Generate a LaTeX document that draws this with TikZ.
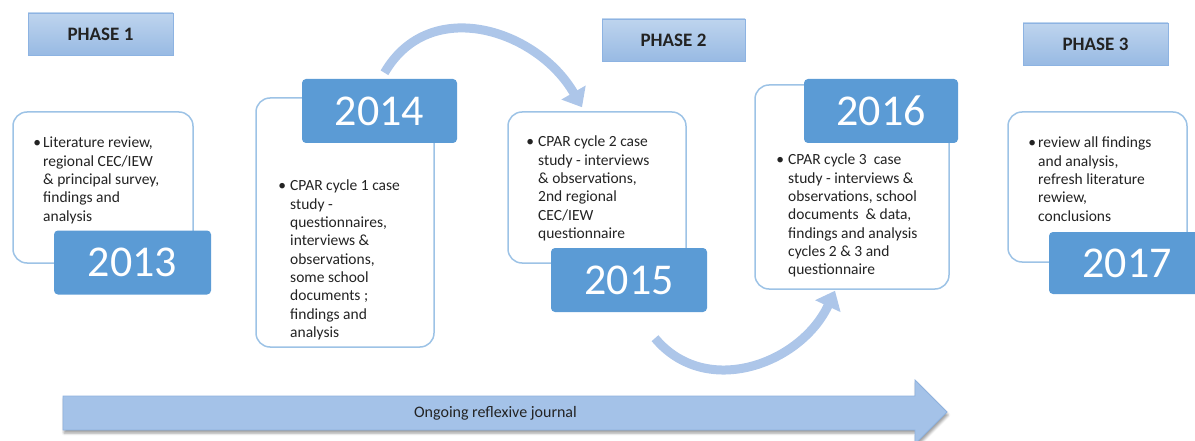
\documentclass[tikz,border=0pt]{standalone}
\usepackage{fontspec}
\setmainfont{Carlito}
\usetikzlibrary{arrows.meta, positioning, calc, shadows.blur}
\definecolor{yearfill}{RGB}{91,155,213}
\definecolor{cardline}{RGB}{157,195,230}
\definecolor{phasetop}{RGB}{190,212,238}
\definecolor{phasebot}{RGB}{152,186,227}
\definecolor{phaseline}{RGB}{141,179,226}
\definecolor{curvefill}{RGB}{173,198,233}
\definecolor{journalfill}{RGB}{164,194,232}
\definecolor{journalline}{RGB}{142,177,222}
\definecolor{bodyink}{RGB}{35,35,35}
\newcommand\cardbullet{\llap{\textbullet\hspace{4pt}}}
\newcommand\tightbullet{\llap{\textbullet\hspace{2pt}}}

\begin{document}
\begin{tikzpicture}[
  x=1pt, y=1pt,
  phasebox/.style={top color=phasetop, bottom color=phasebot, draw=phaseline,
                   line width=0.8pt, minimum width=145pt, minimum height=42pt,
                   inner sep=0pt, text=bodyink,
                   font=\fontsize{19}{22}\selectfont\bfseries},
  cardbox/.style={draw=cardline, line width=1.5pt, fill=white,
                  rounded corners=14pt, inner sep=0pt},
  yearbox/.style={fill=yearfill, rounded corners=4pt, minimum width=156pt,
                  minimum height=64pt, inner sep=0pt, text=white,
                  font=\fontsize{44}{48}\selectfont},
  cardtext/.style={anchor=north west, align=left, inner sep=0pt, text=bodyink,
                   font=\fontsize{15.5}{18.3}\selectfont},
  curvearrow/.style={draw=curvefill, line width=9pt,
                     -{Triangle[length=17pt, width=27pt]}},
  journalarrow/.style={fill=journalfill, draw=journalline, line width=0.8pt,
                       blur shadow={shadow xshift=1pt, shadow yshift=-3pt,
                                    shadow blur radius=2.5pt}},
]
\useasboundingbox (0,0) rectangle (1195,-441);

% =================================================================
%  PHASE LABELS
% =================================================================
\node[phasebox] (phase1) at (100.5,-34) {PHASE 1};
\node[phasebox, minimum width=143pt] (phase2) at (673.5,-40) {PHASE 2};
\node[phasebox] (phase3) at (1095.5,-44) {PHASE 3};

% =================================================================
%  CARDS
% =================================================================
\node[cardbox, minimum width=180pt, minimum height=151pt] (card13) at (103,-187.5) {};
\node[cardbox, minimum width=178pt, minimum height=249pt] (card14) at (345,-222.5) {};
\node[cardbox, minimum width=178pt, minimum height=151pt] (card15) at (597,-187.5) {};
\node[cardbox, minimum width=194pt, minimum height=204pt] (card16) at (852,-187) {};
\node[cardbox, minimum width=179pt, minimum height=150pt] (card17) at (1097.5,-187) {};

\node[cardtext] (note13) at (43,-137)
  {\tightbullet Literature review,\\
   regional CEC/IEW\\
   \& principal survey,\\
   findings and\\
   analysis};

\node[cardtext] (note14) at (290,-180)
  {\cardbullet CPAR cycle 1 case\\
   study -\\
   questionnaires,\\
   interviews \&\\
   observations,\\
   some school\\
   documents ;\\
   findings and\\
   analysis};

\node[cardtext] (note15) at (538,-136)
  {\cardbullet CPAR cycle 2 case\\
   study - interviews\\
   \& observations,\\
   2nd regional\\
   CEC/IEW\\
   questionnaire};

\node[cardtext] (note16) at (788,-154)
  {\cardbullet CPAR cycle 3\ \ case\\
   study - interviews \&\\
   observations, school\\
   documents\ \ \& data,\\
   findings and analysis\\
   cycles 2 \& 3 and\\
   questionnaire};

\node[cardtext] (note17) at (1038,-137)
  {\tightbullet review all findings\\
   and analysis,\\
   refresh literature\\
   rewiew,\\
   conclusions};

% =================================================================
%  YEARS
% =================================================================
\node[yearbox, minimum width=157pt] (year13) at (132.5,-262.5) {2013};
\node[yearbox, minimum width=155pt] (year14) at (379.5,-111) {2014};
\node[yearbox] (year15) at (629,-280) {2015};
\node[yearbox, minimum width=154pt] (year16) at (881,-111) {2016};
\node[yearbox, minimum height=62pt] (year17) at (1127,-263) {2017};

% =================================================================
%  ARROWS
% =================================================================
\draw[curvearrow] ([xshift=5pt, yshift=6pt]year14.north)
  to[out=60, in=120, looseness=1.15] ([xshift=-15pt, yshift=4pt]card15.north);
\draw[curvearrow] ([xshift=26pt, yshift=-26pt]year15.south)
  to[out=-50, in=-115, looseness=1.1] ([xshift=-17pt, yshift=-1pt]card16.south);

% =================================================================
%  JOURNAL
% =================================================================
\draw[journalarrow] (63,-396) -- (915,-396) -- (915,-380) -- (947,-412)
  -- (915,-444) -- (915,-430) -- (63,-430) -- cycle;
\node[text=bodyink, font=\fontsize{16}{18}\selectfont] (journal) at (495.5,-413)
  {Ongoing reflexive journal};

\end{tikzpicture}
\end{document}
